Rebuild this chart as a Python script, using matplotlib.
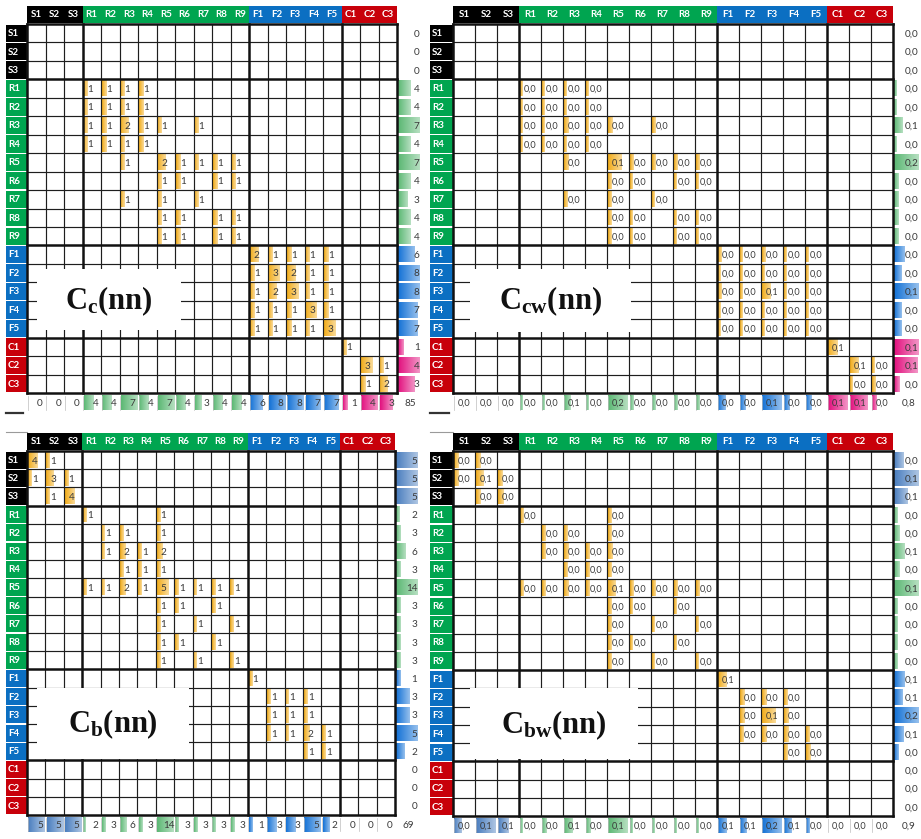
import numpy as np
import matplotlib
matplotlib.use("Agg")
import matplotlib.pyplot as plt
from matplotlib.patches import Rectangle
from matplotlib.colors import LinearSegmentedColormap, to_rgb

plt.rcParams['font.family'] = ['Lato', 'DejaVu Sans']
plt.rcParams['mathtext.fontset'] = 'custom'
plt.rcParams['mathtext.rm'] = 'Liberation Serif'
plt.rcParams['mathtext.bf'] = 'Liberation Serif:bold'
plt.rcParams['mathtext.it'] = 'Liberation Serif:italic'

# ---------------- data ----------------
labels = ['S1', 'S2', 'S3',
          'R1', 'R2', 'R3', 'R4', 'R5', 'R6', 'R7', 'R8', 'R9',
          'F1', 'F2', 'F3', 'F4', 'F5',
          'C1', 'C2', 'C3']
groups = ['S'] * 3 + ['R'] * 9 + ['F'] * 5 + ['C'] * 3

# C_c(nn): counts
cc_cells = {
    'R1': {'R1': 1, 'R2': 1, 'R3': 1, 'R4': 1},
    'R2': {'R1': 1, 'R2': 1, 'R3': 1, 'R4': 1},
    'R3': {'R1': 1, 'R2': 1, 'R3': 2, 'R4': 1, 'R5': 1, 'R7': 1},
    'R4': {'R1': 1, 'R2': 1, 'R3': 1, 'R4': 1},
    'R5': {'R3': 1, 'R5': 2, 'R6': 1, 'R7': 1, 'R8': 1, 'R9': 1},
    'R6': {'R5': 1, 'R6': 1, 'R8': 1, 'R9': 1},
    'R7': {'R3': 1, 'R5': 1, 'R7': 1},
    'R8': {'R5': 1, 'R6': 1, 'R8': 1, 'R9': 1},
    'R9': {'R5': 1, 'R6': 1, 'R8': 1, 'R9': 1},
    'F1': {'F1': 2, 'F2': 1, 'F3': 1, 'F4': 1, 'F5': 1},
    'F2': {'F1': 1, 'F2': 3, 'F3': 2, 'F4': 1, 'F5': 1},
    'F3': {'F1': 1, 'F2': 2, 'F3': 3, 'F4': 1, 'F5': 1},
    'F4': {'F1': 1, 'F2': 1, 'F3': 1, 'F4': 3, 'F5': 1},
    'F5': {'F1': 1, 'F2': 1, 'F3': 1, 'F4': 1, 'F5': 3},
    'C1': {'C1': 1},
    'C2': {'C2': 3, 'C3': 1},
    'C3': {'C2': 1, 'C3': 2},
}

# C_cw(nn): weighted (estimated, displayed with one decimal)
ccw_cells = {
    'R1': {'R1': .005, 'R2': .005, 'R3': .005, 'R4': .005},
    'R2': {'R1': .005, 'R2': .005, 'R3': .005, 'R4': .005},
    'R3': {'R1': .005, 'R2': .005, 'R3': .02, 'R4': .005, 'R5': .02, 'R7': .01},
    'R4': {'R1': .005, 'R2': .005, 'R3': .005, 'R4': .005},
    'R5': {'R3': .02, 'R5': .10, 'R6': .015, 'R7': .015, 'R8': .015, 'R9': .015},
    'R6': {'R5': .015, 'R6': .005, 'R8': .005, 'R9': .005},
    'R7': {'R3': .01, 'R5': .015, 'R7': .005},
    'R8': {'R5': .015, 'R6': .005, 'R8': .005, 'R9': .005},
    'R9': {'R5': .015, 'R6': .005, 'R8': .005, 'R9': .005},
    'F1': {'F1': .01, 'F2': .005, 'F3': .01, 'F4': .005, 'F5': .005},
    'F2': {'F1': .005, 'F2': .005, 'F3': .005, 'F4': .005, 'F5': .005},
    'F3': {'F1': .01, 'F2': .005, 'F3': .06, 'F4': .005, 'F5': .005},
    'F4': {'F1': .005, 'F2': .005, 'F3': .005, 'F4': .005, 'F5': .005},
    'F5': {'F1': .005, 'F2': .005, 'F3': .005, 'F4': .005, 'F5': .005},
    'C1': {'C1': .07},
    'C2': {'C2': .06, 'C3': .005},
    'C3': {'C2': .005, 'C3': .01},
}

# C_b(nn): counts
cb_cells = {
    'S1': {'S1': 4, 'S2': 1},
    'S2': {'S1': 1, 'S2': 3, 'S3': 1},
    'S3': {'S2': 1, 'S3': 4},
    'R1': {'R1': 1, 'R5': 1},
    'R2': {'R2': 1, 'R3': 1, 'R5': 1},
    'R3': {'R2': 1, 'R3': 2, 'R4': 1, 'R5': 2},
    'R4': {'R3': 1, 'R4': 1, 'R5': 1},
    'R5': {'R1': 1, 'R2': 1, 'R3': 2, 'R4': 1, 'R5': 5, 'R6': 1, 'R7': 1, 'R8': 1, 'R9': 1},
    'R6': {'R5': 1, 'R6': 1, 'R8': 1},
    'R7': {'R5': 1, 'R7': 1, 'R9': 1},
    'R8': {'R5': 1, 'R6': 1, 'R8': 1},
    'R9': {'R5': 1, 'R7': 1, 'R9': 1},
    'F1': {'F1': 1},
    'F2': {'F2': 1, 'F3': 1, 'F4': 1},
    'F3': {'F2': 1, 'F3': 1, 'F4': 1},
    'F4': {'F2': 1, 'F3': 1, 'F4': 2, 'F5': 1},
    'F5': {'F4': 1, 'F5': 1},
}

# C_bw(nn): weighted (estimated)
cbw_cells = {
    'S1': {'S1': .02, 'S2': .02},
    'S2': {'S1': .02, 'S2': .06, 'S3': .02},
    'S3': {'S2': .02, 'S3': .035},
    'R1': {'R1': .01, 'R5': .01},
    'R2': {'R2': .01, 'R3': .01, 'R5': .01},
    'R3': {'R2': .01, 'R3': .02, 'R4': .01, 'R5': .02},
    'R4': {'R3': .01, 'R4': .01, 'R5': .01},
    'R5': {'R1': .01, 'R2': .01, 'R3': .02, 'R4': .01, 'R5': .055,
           'R6': .01, 'R7': .01, 'R8': .01, 'R9': .01},
    'R6': {'R5': .01, 'R6': .005, 'R8': .005},
    'R7': {'R5': .01, 'R7': .005, 'R9': .005},
    'R8': {'R5': .01, 'R6': .005, 'R8': .005},
    'R9': {'R5': .01, 'R7': .005, 'R9': .005},
    'F1': {'F1': .07},
    'F2': {'F2': .025, 'F3': .02, 'F4': .01},
    'F3': {'F2': .02, 'F3': .12, 'F4': .02},
    'F4': {'F2': .01, 'F3': .02, 'F4': .02, 'F5': .01},
    'F5': {'F4': .01, 'F5': .02},
}

panel_titles = [r'$\mathbf{C}_{\mathbf{c}}\mathbf{(nn)}$',
                r'$\mathbf{C}_{\mathbf{cw}}\mathbf{(nn)}$',
                r'$\mathbf{C}_{\mathbf{b}}\mathbf{(nn)}$',
                r'$\mathbf{C}_{\mathbf{bw}}\mathbf{(nn)}$']

# ---------------- styles ----------------
HEAD = {'S': '#000000', 'R': '#00a550', 'F': '#0b6fc2', 'C': '#c8000a'}
SUMC = {'S': '#4a7ebf', 'R': '#5cb874', 'F': '#1472d6', 'C': '#e2127f'}
ORANGE = '#f2ad1c'
TXT = '#3a3a3a'
BOUNDS = [0, 3, 12, 17, 20]

W, H = 921, 839
fig = plt.figure(figsize=(W / 100, H / 100), dpi=100)
fig.patch.set_facecolor('white')

idx = {l: k for k, l in enumerate(labels)}


def to_matrix(cells):
    m = np.zeros((20, 20))
    for r, d in cells.items():
        for c, v in d.items():
            m[idx[r], idx[c]] = v
    return m


_cmaps = {}


def gbar(ax, x, y, w, h, color, z=2):
    if w <= 0:
        return
    if color not in _cmaps:
        c = np.array(to_rgb(color))
        light = c + (1 - c) * 0.55
        _cmaps[color] = LinearSegmentedColormap.from_list(color, [c, light])
    grad = np.linspace(0, 1, 32).reshape(1, -1)
    ax.imshow(grad, cmap=_cmaps[color], extent=(x, x + w, y + h, y),
              aspect='auto', zorder=z, interpolation='bilinear')


def fmt_val(v, weighted):
    if weighted:
        return f"{v:.1f}".replace('.', ',')
    return f"{int(round(v))}"


def draw_panel(geom, M, weighted, title, box, top_panel):
    gx, gy, cw, rh = geom['gx'], geom['gy'], geom['cw'], geom['rh']
    lw_ = geom['label_w']
    sw = geom['sum_w']
    xl0, xl1, yl0, yl1 = -lw_, 20 + sw, -1.05, 21.1
    left = gx + xl0 * cw
    right = gx + xl1 * cw
    top = gy + yl0 * rh
    bottom = gy + yl1 * rh
    ax = fig.add_axes([left / W, 1 - bottom / H, (right - left) / W, (bottom - top) / H])
    ax.axis('off')

    # header
    for j, lab in enumerate(labels):
        ax.add_patch(Rectangle((j, -1.0), 1, 0.97, fc=HEAD[groups[j]], ec='none', zorder=3))
        ax.text(j + 0.5, -0.5, lab, color='white', fontsize=7, fontweight='bold',
                ha='center', va='center', zorder=4)
    # row labels
    for i, lab in enumerate(labels):
        ax.add_patch(Rectangle((-lw_, i + 0.03), lw_ - 0.02, 0.94, fc=HEAD[groups[i]],
                               ec='none', zorder=3))
        ax.text(-lw_ + 0.1, i + 0.52, lab, color='white', fontsize=7, fontweight='bold',
                ha='left', va='center', zorder=4)

    # grid lines
    for k in range(21):
        if k in BOUNDS:
            continue
        ax.plot([k, k], [0, 20], color='#1e1e1e', lw=0.85, zorder=5, solid_capstyle='butt')
        ax.plot([0, 20], [k, k], color='#1e1e1e', lw=0.85, zorder=5, solid_capstyle='butt')
    for k in BOUNDS:
        ax.plot([k, k], [0, 20], color='#111111', lw=1.8, zorder=6, solid_capstyle='projecting')
        ax.plot([0, 20], [k, k], color='#111111', lw=1.8, zorder=6, solid_capstyle='projecting')

    # cells
    vmax = M.max()
    fs_cell = 6.6 if weighted else 7.2
    for i in range(20):
        for j in range(20):
            v = M[i, j]
            if v > 0:
                frac = 0.1 + 0.5 * v / vmax
                gbar(ax, j + 0.04, i + 0.08, frac, 0.84, ORANGE, z=2)
                tx = j + 0.5 if weighted else j + 0.42
                ax.text(tx, i + 0.55, fmt_val(v, weighted), color=TXT, fontsize=fs_cell,
                        ha='center', va='center', zorder=4)

    # sums
    rs = M.sum(axis=1)
    cs = M.sum(axis=0)
    gmax_r = {g: max(rs[k] for k in range(20) if groups[k] == g) for g in HEAD}
    gmax_c = {g: max(cs[k] for k in range(20) if groups[k] == g) for g in HEAD}
    for i in range(20):
        v = rs[i]
        g = groups[i]
        if v > 0 and gmax_r[g] > 0:
            gbar(ax, 20.06, i + 0.08, (sw - 0.12) * v / gmax_r[g], 0.84, SUMC[g], z=2)
        ax.text(20 + sw - 0.08, i + 0.55, fmt_val(v, weighted), color=TXT, fontsize=7.2,
                ha='right', va='center', zorder=4)
    for j in range(20):
        v = cs[j]
        g = groups[j]
        if v > 0 and gmax_c[g] > 0:
            gbar(ax, j + 0.06, 20.12, 0.88 * v / gmax_c[g], 0.8, SUMC[g], z=2)
        ax.plot([j + 0.03, j + 0.03], [20.15, 20.9], color='#bdbdbd', lw=0.5, zorder=3)
        if weighted:
            ax.text(j + 0.5, 20.55, fmt_val(v, True), color=TXT, fontsize=6.6,
                    ha='center', va='center', zorder=4)
        else:
            ax.text(j + 0.7, 20.55, fmt_val(v, False), color=TXT, fontsize=7.2,
                    ha='center', va='center', zorder=4)
    ax.text(20 + sw * 0.55, 20.55, fmt_val(M.sum(), weighted), color=TXT, fontsize=7.2,
            ha='center', va='center', zorder=4)

    # label box
    bx0, bx1, by0, by1 = box
    ax.add_patch(Rectangle((bx0, by0), bx1 - bx0, by1 - by0, fc='white', ec='none', zorder=8))
    ax.text((bx0 + bx1) / 2, (by0 + by1) / 2 + 0.05, title, fontsize=22, color='#111111',
            ha='center', va='center', zorder=9)

    # small edge strokes left from cropping
    if top_panel:
        ax.plot([-lw_, -0.2], [21.08, 21.08], color='#333333', lw=1.6, zorder=3, clip_on=False)
    else:
        ax.plot([-lw_, 0], [-1.04, -1.04], color='#9a9a9a', lw=0.8, zorder=3, clip_on=False)

    ax.set_xlim(xl0, xl1)
    ax.set_ylim(yl1, yl0)
    ax.set_aspect('auto')
    return ax


geoms = [
    dict(gx=27, gy=24, cw=18.5, rh=18.45, label_w=1.14, sum_w=1.3),
    dict(gx=453, gy=24, cw=22.0, rh=18.45, label_w=1.05, sum_w=1.25),
    dict(gx=27, gy=451, cw=18.4, rh=18.2, label_w=1.14, sum_w=1.3),
    dict(gx=453, gy=451, cw=22.0, rh=18.25, label_w=1.05, sum_w=1.25),
]
boxes = [
    (0.55, 8.3, 13.3, 16.6),
    (0.75, 8.1, 13.3, 16.7),
    (0.55, 8.8, 13.0, 16.9),
    (0.75, 8.4, 13.0, 16.9),
]
mats = [to_matrix(cc_cells), to_matrix(ccw_cells), to_matrix(cb_cells), to_matrix(cbw_cells)]
weighted_flags = [False, True, False, True]

for k in range(4):
    draw_panel(geoms[k], mats[k], weighted_flags[k], panel_titles[k], boxes[k], k < 2)

fig.savefig('out.png', dpi=100, facecolor='white')
